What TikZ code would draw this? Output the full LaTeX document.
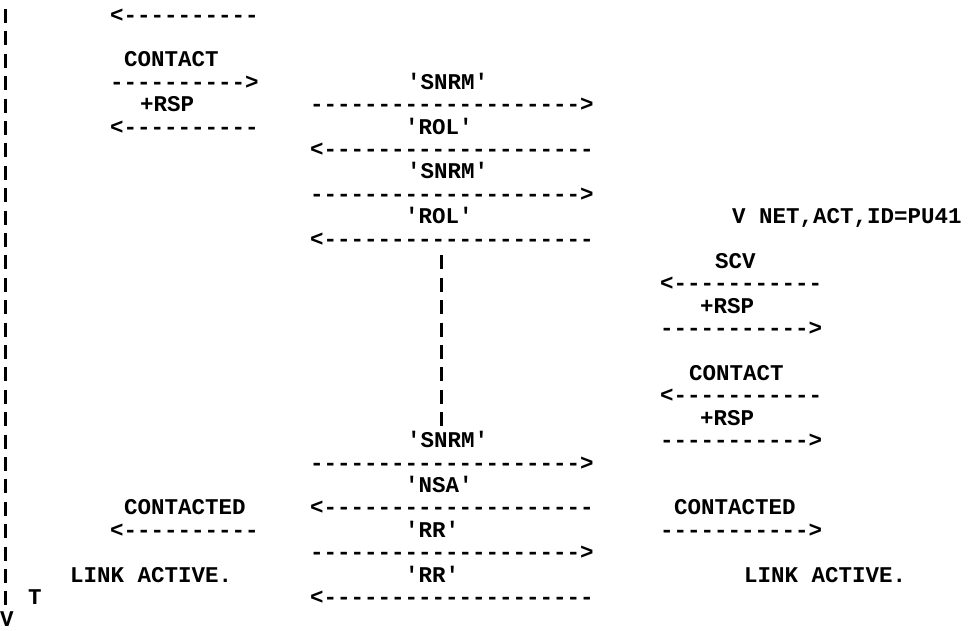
\documentclass[tikz,border=0pt]{standalone}
\usepackage{fontspec}
\newfontfamily\typewriter{Liberation Mono}

\begin{document}
\begin{tikzpicture}[x=1pt, y=-1pt,
    msg/.style={font=\typewriter\bfseries\fontsize{22.5pt}{22.5pt}\selectfont, anchor=base west, inner sep=0pt},
    bar/.style={line width=2.8pt, dash pattern=on 14pt off 8.4pt}]
  \useasboundingbox (0,0) rectangle (974,630);
  % left station
  \node [msg] (l0) at (110,22) {<----------};
  \node [msg] (lcontact) at (124,66.8) {CONTACT};
  \node [msg] (l3) at (110,89.2) {---------->};
  \node [msg] (lrsp) at (140,111.6) {+RSP};
  \node [msg] (l5) at (110,134) {<----------};
  \node [msg] (lcontacted) at (124,514.8) {CONTACTED};
  \node [msg] (l23) at (110,537.2) {<----------};
  \node [msg] (lactive) at (70,582) {LINK ACTIVE.};
  \node [msg] (tmark) at (28,604.4) {T};
  \node [msg] (vend) at (0,626.8) {V};
  \coordinate (axtop) at (5.5,9);
  \draw [bar] (axtop)--(vend.north-|axtop);
  % link exchange
  \node [msg] (snrm1) at (407,89.2) {'SNRM'};
  \node [msg] (m4) at (310,111.6) {-------------------->};
  \node [msg] (rol1) at (405,134) {'ROL'};
  \node [msg] (m6) at (310,156.4) {<--------------------};
  \node [msg] (snrm2) at (407,178.8) {'SNRM'};
  \node [msg] (m8) at (310,201.2) {-------------------->};
  \node [msg] (rol2) at (405,223.6) {'ROL'};
  \node [msg] (m10) at (310,246) {<--------------------};
  \coordinate (gaptop) at (441.5,255.4);
  \coordinate (gapbot) at (441.5,427);
  \draw [bar] (gaptop)--(gapbot);
  \node [msg] (snrm3) at (407,447.6) {'SNRM'};
  \node [msg] (m20) at (310,470) {-------------------->};
  \node [msg] (nsa) at (405,492.4) {'NSA'};
  \node [msg] (m22) at (310,514.8) {<--------------------};
  \node [msg] (rr1) at (405,537.2) {'RR'};
  \node [msg] (m24) at (310,559.6) {-------------------->};
  \node [msg] (rr2) at (405,582) {'RR'};
  \node [msg] (m26) at (310,604.4) {<--------------------};
  % right station
  \node [msg] (vnet) at (732,223.6) {V NET,ACT,ID=PU41};
  \node [msg] (scv) at (715,268.4) {SCV};
  \node [msg] (r12) at (660,290.8) {<-----------};
  \node [msg] (rrsp1) at (700,313.2) {+RSP};
  \node [msg] (r14) at (660,335.6) {----------->};
  \node [msg] (rcontact) at (689,380.4) {CONTACT};
  \node [msg] (r17) at (660,402.8) {<-----------};
  \node [msg] (rrsp2) at (700,425.2) {+RSP};
  \node [msg] (r19) at (660,447.6) {----------->};
  \node [msg] (rcontacted) at (674,514.8) {CONTACTED};
  \node [msg] (r23) at (660,537.2) {----------->};
  \node [msg] (ractive) at (744,582) {LINK ACTIVE.};
\end{tikzpicture}
\end{document}
